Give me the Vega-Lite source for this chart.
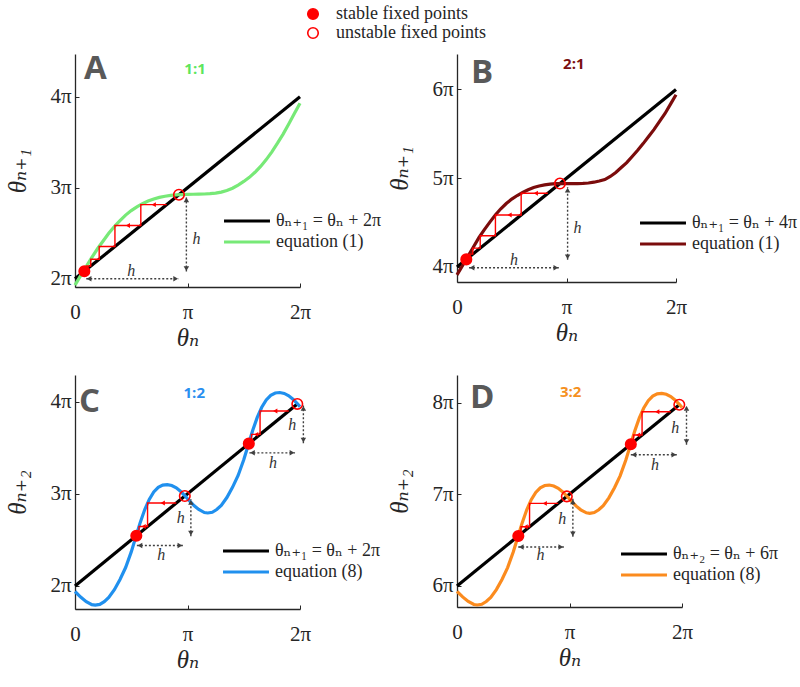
{
  "$schema": "https://vega.github.io/schema/vega-lite/v6.json",
  "background": "white",
  "padding": {"left": 5, "top": 5, "right": 5, "bottom": 5},
  "bounds": "flush",
  "columns": 2,
  "spacing": {"row": 88, "column": 157},
  "resolve": {"scale": {"stroke": "independent"}, "legend": {"stroke": "independent"}},
  "concat": [
    {
      "width": 225, "height": 233,
      "title": {"text": "A", "dx": 9, "dy": 36},
      "encoding": {
        "x": {"field": "x", "type": "quantitative", "scale": {"domain": [0, 2], "nice": false, "zero": false}, "axis": {"values": [0, 1, 2], "labelExpr": "datum.value == 0 ? '0' : datum.value == 1 ? 'π' : datum.value + 'π'", "title": "θₙ"}},
        "y": {"field": "y", "type": "quantitative", "scale": {"domain": [1.91, 4.47], "nice": false, "zero": false}, "axis": {"values": [2, 3, 4], "labelExpr": "datum.value + 'π'", "title": "θₙ₊₁"}}
      },
      "layer": [
        {"data": {"values": [{"x": 0, "y": 2, "s": "θₙ₊₁ = θₙ + 2π"}, {"x": 2, "y": 4, "s": "θₙ₊₁ = θₙ + 2π"}]},
         "mark": {"type": "line", "strokeWidth": 3.2},
         "encoding": {"stroke": {"field": "s", "type": "nominal", "scale": {"domain": ["θₙ₊₁ = θₙ + 2π", "equation (1)"], "range": ["#000000", "#77e977"]}, "legend": {"orient": "none", "legendX": 163, "legendY": 158, "title": null, "rowPadding": 3, "labelOffset": 20, "symbolType": "M-4,0H4", "symbolSize": 132, "symbolStrokeWidth": 3.2, "labelFontSize": 18, "labelFont": "Liberation Serif, Times New Roman, DejaVu Serif, serif"}}}},
        {"data": {"values": [
          {"x": 0, "y": 1.93, "s": "equation (1)"}, {"x": 0.05, "y": 2.035, "s": "equation (1)"}, {"x": 0.1, "y": 2.135, "s": "equation (1)"}, {"x": 0.15, "y": 2.235, "s": "equation (1)"}, {"x": 0.2, "y": 2.33, "s": "equation (1)"}, {"x": 0.25, "y": 2.415, "s": "equation (1)"}, {"x": 0.3, "y": 2.5, "s": "equation (1)"}, {"x": 0.35, "y": 2.575, "s": "equation (1)"}, {"x": 0.4, "y": 2.64, "s": "equation (1)"}, {"x": 0.45, "y": 2.7, "s": "equation (1)"}, {"x": 0.5, "y": 2.75, "s": "equation (1)"}, {"x": 0.55, "y": 2.79, "s": "equation (1)"}, {"x": 0.6, "y": 2.825, "s": "equation (1)"}, {"x": 0.65, "y": 2.855, "s": "equation (1)"}, {"x": 0.7, "y": 2.877, "s": "equation (1)"}, {"x": 0.75, "y": 2.895, "s": "equation (1)"}, {"x": 0.8, "y": 2.907, "s": "equation (1)"}, {"x": 0.85, "y": 2.916, "s": "equation (1)"}, {"x": 0.9, "y": 2.922, "s": "equation (1)"}, {"x": 0.95, "y": 2.926, "s": "equation (1)"}, {"x": 1.0, "y": 2.928, "s": "equation (1)"}, {"x": 1.05, "y": 2.929, "s": "equation (1)"}, {"x": 1.1, "y": 2.93, "s": "equation (1)"}, {"x": 1.15, "y": 2.932, "s": "equation (1)"}, {"x": 1.2, "y": 2.935, "s": "equation (1)"}, {"x": 1.25, "y": 2.942, "s": "equation (1)"}, {"x": 1.3, "y": 2.953, "s": "equation (1)"}, {"x": 1.35, "y": 2.97, "s": "equation (1)"}, {"x": 1.4, "y": 2.995, "s": "equation (1)"}, {"x": 1.45, "y": 3.03, "s": "equation (1)"}, {"x": 1.5, "y": 3.07, "s": "equation (1)"}, {"x": 1.55, "y": 3.115, "s": "equation (1)"}, {"x": 1.6, "y": 3.17, "s": "equation (1)"}, {"x": 1.65, "y": 3.235, "s": "equation (1)"}, {"x": 1.7, "y": 3.31, "s": "equation (1)"}, {"x": 1.75, "y": 3.395, "s": "equation (1)"}, {"x": 1.8, "y": 3.49, "s": "equation (1)"}, {"x": 1.85, "y": 3.59, "s": "equation (1)"}, {"x": 1.9, "y": 3.7, "s": "equation (1)"}, {"x": 1.95, "y": 3.815, "s": "equation (1)"}, {"x": 2.0, "y": 3.93, "s": "equation (1)"}]},
         "mark": {"type": "line", "strokeWidth": 3.2},
         "encoding": {"stroke": {"field": "s", "type": "nominal", "scale": {"domain": ["θₙ₊₁ = θₙ + 2π", "equation (1)"], "range": ["#000000", "#77e977"]}, "legend": {"orient": "none", "legendX": 163, "legendY": 158, "title": null, "rowPadding": 3, "labelOffset": 20, "symbolType": "M-4,0H4", "symbolSize": 132, "symbolStrokeWidth": 3.2, "labelFontSize": 18, "labelFont": "Liberation Serif, Times New Roman, DejaVu Serif, serif"}}}},
        {"data": {"values": [
          {"i": 0, "x": 0.815, "y": 2.815}, {"i": 1, "x": 0.585, "y": 2.815}, {"i": 2, "x": 0.585, "y": 2.585}, {"i": 3, "x": 0.355, "y": 2.585}, {"i": 4, "x": 0.355, "y": 2.355}, {"i": 5, "x": 0.215, "y": 2.355}, {"i": 6, "x": 0.215, "y": 2.215}, {"i": 7, "x": 0.14, "y": 2.215}, {"i": 8, "x": 0.14, "y": 2.14}, {"i": 9, "x": 0.105, "y": 2.14}, {"i": 10, "x": 0.105, "y": 2.105}]},
         "mark": {"type": "line", "color": "#ff0000", "strokeWidth": 1.4},
         "encoding": {"order": {"field": "i", "type": "quantitative"}}},
        {"data": {"values": [{"x": 0.7, "y": 2.815, "dir": "left"}, {"x": 0.47, "y": 2.585, "dir": "left"}]},
         "mark": {"type": "point", "filled": true, "color": "#ff0000", "size": 24, "opacity": 1},
         "encoding": {"shape": {"field": "dir", "type": "nominal", "scale": {"domain": ["left", "right", "up", "down"], "range": ["triangle-left", "triangle-right", "triangle-up", "triangle-down"]}, "legend": null}}},
        {"data": {"values": [{"x": 0.1, "y": 2.0, "x2": 0.92, "y2": 2.0}, {"x": 0.99, "y": 2.08, "x2": 0.99, "y2": 2.9}]},
         "mark": {"type": "rule", "color": "#404040", "strokeWidth": 1.4, "strokeDash": [2, 2]},
         "encoding": {"x2": {"field": "x2"}, "y2": {"field": "y2"}}},
        {"data": {"values": [{"x": 0.125, "y": 2.0, "dir": "left"}, {"x": 0.895, "y": 2.0, "dir": "right"}, {"x": 0.99, "y": 2.867, "dir": "up"}, {"x": 0.99, "y": 2.113, "dir": "down"}]},
         "mark": {"type": "point", "filled": true, "color": "#404040", "size": 30, "opacity": 1},
         "encoding": {"shape": {"field": "dir", "type": "nominal", "scale": {"domain": ["left", "right", "up", "down"], "range": ["triangle-left", "triangle-right", "triangle-up", "triangle-down"]}, "legend": null}}},
        {"data": {"values": [{"x": 0.5, "y": 2.09, "t": "h"}, {"x": 1.08, "y": 2.44, "t": "h"}]},
         "mark": {"type": "text", "font": "Liberation Serif, Times New Roman, DejaVu Serif, serif", "fontStyle": "italic", "fontSize": 16, "color": "#333333"},
         "encoding": {"text": {"field": "t"}}},
        {"data": {"values": [{"x": 1.067, "y": 4.3, "t": "1:1"}]},
         "mark": {"type": "text", "font": "Open Sans", "fontWeight": "bold", "fontSize": 15, "color": "#5de65d"},
         "encoding": {"text": {"field": "t"}}},
        {"data": {"values": [{"x": 0.083, "y": 2.083, "st": "stable fixed points"}, {"x": 0.924, "y": 2.924, "st": "unstable fixed points"}]},
         "mark": {"type": "point", "shape": "circle", "filled": true, "stroke": "#ff0000", "strokeWidth": 1.6, "size": 110, "opacity": 1},
         "encoding": {"fill": {"field": "st", "type": "nominal", "scale": {"domain": ["stable fixed points", "unstable fixed points"], "range": ["#ff0000", "rgba(255,255,255,0)"]}, "legend": {"orient": "none", "legendX": 229, "legendY": -49, "title": null, "symbolType": "circle", "symbolSize": 110, "symbolStrokeColor": "#ff0000", "symbolStrokeWidth": 1.6, "labelFontSize": 18, "labelFont": "Liberation Serif, Times New Roman, DejaVu Serif, serif", "labelOffset": 14, "rowPadding": 1}}}}
      ]
    },
    {
      "width": 219, "height": 228,
      "title": {"text": "B", "dx": 14, "dy": 40},
      "encoding": {
        "x": {"field": "x", "type": "quantitative", "scale": {"domain": [0, 2], "nice": false, "zero": false}, "axis": {"values": [0, 1, 2], "labelExpr": "datum.value == 0 ? '0' : datum.value == 1 ? 'π' : datum.value + 'π'", "title": "θₙ"}},
        "y": {"field": "y", "type": "quantitative", "scale": {"domain": [3.83, 6.4], "nice": false, "zero": false}, "axis": {"values": [4, 5, 6], "labelExpr": "datum.value + 'π'", "title": "θₙ₊₁"}}
      },
      "layer": [
        {"data": {"values": [{"x": 0, "y": 4, "s": "θₙ₊₁ = θₙ + 4π"}, {"x": 2, "y": 6, "s": "θₙ₊₁ = θₙ + 4π"}]},
         "mark": {"type": "line", "strokeWidth": 3.2},
         "encoding": {"stroke": {"field": "s", "type": "nominal", "scale": {"domain": ["θₙ₊₁ = θₙ + 4π", "equation (1)"], "range": ["#000000", "#7b0c0c"]}, "legend": {"orient": "none", "legendX": 197, "legendY": 160, "title": null, "rowPadding": 3, "labelOffset": 20, "symbolType": "M-4,0H4", "symbolSize": 132, "symbolStrokeWidth": 3.2, "labelFontSize": 18, "labelFont": "Liberation Serif, Times New Roman, DejaVu Serif, serif"}}}},
        {"data": {"values": [
          {"x": 0, "y": 3.91, "s": "equation (1)"}, {"x": 0.05, "y": 4.015, "s": "equation (1)"}, {"x": 0.1, "y": 4.12, "s": "equation (1)"}, {"x": 0.15, "y": 4.225, "s": "equation (1)"}, {"x": 0.2, "y": 4.33, "s": "equation (1)"}, {"x": 0.25, "y": 4.42, "s": "equation (1)"}, {"x": 0.3, "y": 4.505, "s": "equation (1)"}, {"x": 0.35, "y": 4.585, "s": "equation (1)"}, {"x": 0.4, "y": 4.655, "s": "equation (1)"}, {"x": 0.45, "y": 4.715, "s": "equation (1)"}, {"x": 0.5, "y": 4.765, "s": "equation (1)"}, {"x": 0.55, "y": 4.805, "s": "equation (1)"}, {"x": 0.6, "y": 4.84, "s": "equation (1)"}, {"x": 0.65, "y": 4.87, "s": "equation (1)"}, {"x": 0.7, "y": 4.895, "s": "equation (1)"}, {"x": 0.75, "y": 4.912, "s": "equation (1)"}, {"x": 0.8, "y": 4.925, "s": "equation (1)"}, {"x": 0.85, "y": 4.933, "s": "equation (1)"}, {"x": 0.9, "y": 4.938, "s": "equation (1)"}, {"x": 0.95, "y": 4.94, "s": "equation (1)"}, {"x": 1.0, "y": 4.94, "s": "equation (1)"}, {"x": 1.05, "y": 4.94, "s": "equation (1)"}, {"x": 1.1, "y": 4.94, "s": "equation (1)"}, {"x": 1.15, "y": 4.942, "s": "equation (1)"}, {"x": 1.2, "y": 4.946, "s": "equation (1)"}, {"x": 1.25, "y": 4.955, "s": "equation (1)"}, {"x": 1.3, "y": 4.968, "s": "equation (1)"}, {"x": 1.35, "y": 4.985, "s": "equation (1)"}, {"x": 1.4, "y": 5.02, "s": "equation (1)"}, {"x": 1.45, "y": 5.065, "s": "equation (1)"}, {"x": 1.5, "y": 5.12, "s": "equation (1)"}, {"x": 1.55, "y": 5.175, "s": "equation (1)"}, {"x": 1.6, "y": 5.245, "s": "equation (1)"}, {"x": 1.65, "y": 5.315, "s": "equation (1)"}, {"x": 1.7, "y": 5.39, "s": "equation (1)"}, {"x": 1.75, "y": 5.47, "s": "equation (1)"}, {"x": 1.8, "y": 5.55, "s": "equation (1)"}, {"x": 1.85, "y": 5.64, "s": "equation (1)"}, {"x": 1.9, "y": 5.73, "s": "equation (1)"}, {"x": 1.95, "y": 5.835, "s": "equation (1)"}, {"x": 2.0, "y": 5.94, "s": "equation (1)"}]},
         "mark": {"type": "line", "strokeWidth": 3.2},
         "encoding": {"stroke": {"field": "s", "type": "nominal", "scale": {"domain": ["θₙ₊₁ = θₙ + 4π", "equation (1)"], "range": ["#000000", "#7b0c0c"]}, "legend": {"orient": "none", "legendX": 197, "legendY": 160, "title": null, "rowPadding": 3, "labelOffset": 20, "symbolType": "M-4,0H4", "symbolSize": 132, "symbolStrokeWidth": 3.2, "labelFontSize": 18, "labelFont": "Liberation Serif, Times New Roman, DejaVu Serif, serif"}}}},
        {"data": {"values": [
          {"i": 0, "x": 0.83, "y": 4.83}, {"i": 1, "x": 0.586, "y": 4.83}, {"i": 2, "x": 0.586, "y": 4.586}, {"i": 3, "x": 0.351, "y": 4.586}, {"i": 4, "x": 0.351, "y": 4.351}, {"i": 5, "x": 0.212, "y": 4.351}, {"i": 6, "x": 0.212, "y": 4.212}, {"i": 7, "x": 0.144, "y": 4.212}, {"i": 8, "x": 0.144, "y": 4.144}, {"i": 9, "x": 0.111, "y": 4.144}, {"i": 10, "x": 0.111, "y": 4.111}]},
         "mark": {"type": "line", "color": "#ff0000", "strokeWidth": 1.4},
         "encoding": {"order": {"field": "i", "type": "quantitative"}}},
        {"data": {"values": [{"x": 0.72, "y": 4.83, "dir": "left"}, {"x": 0.48, "y": 4.586, "dir": "left"}]},
         "mark": {"type": "point", "filled": true, "color": "#ff0000", "size": 24, "opacity": 1},
         "encoding": {"shape": {"field": "dir", "type": "nominal", "scale": {"domain": ["left", "right", "up", "down"], "range": ["triangle-left", "triangle-right", "triangle-up", "triangle-down"]}, "legend": null}}},
        {"data": {"values": [{"x": 0.11, "y": 3.99, "x2": 0.93, "y2": 3.99}, {"x": 1.01, "y": 4.08, "x2": 1.01, "y2": 4.9}]},
         "mark": {"type": "rule", "color": "#404040", "strokeWidth": 1.4, "strokeDash": [2, 2]},
         "encoding": {"x2": {"field": "x2"}, "y2": {"field": "y2"}}},
        {"data": {"values": [{"x": 0.137, "y": 3.99, "dir": "left"}, {"x": 0.903, "y": 3.99, "dir": "right"}, {"x": 1.01, "y": 4.866, "dir": "up"}, {"x": 1.01, "y": 4.114, "dir": "down"}]},
         "mark": {"type": "point", "filled": true, "color": "#404040", "size": 30, "opacity": 1},
         "encoding": {"shape": {"field": "dir", "type": "nominal", "scale": {"domain": ["left", "right", "up", "down"], "range": ["triangle-left", "triangle-right", "triangle-up", "triangle-down"]}, "legend": null}}},
        {"data": {"values": [{"x": 0.52, "y": 4.075, "t": "h"}, {"x": 1.1, "y": 4.44, "t": "h"}]},
         "mark": {"type": "text", "font": "Liberation Serif, Times New Roman, DejaVu Serif, serif", "fontStyle": "italic", "fontSize": 16, "color": "#333333"},
         "encoding": {"text": {"field": "t"}}},
        {"data": {"values": [{"x": 1.067, "y": 6.29, "t": "2:1"}]},
         "mark": {"type": "text", "font": "Open Sans", "fontWeight": "bold", "fontSize": 15, "color": "#7b1010"},
         "encoding": {"text": {"field": "t"}}},
        {"data": {"values": [{"x": 0.085, "y": 4.085, "st": "stable fixed points"}, {"x": 0.94, "y": 4.94, "st": "unstable fixed points"}]},
         "mark": {"type": "point", "shape": "circle", "filled": true, "stroke": "#ff0000", "strokeWidth": 1.6, "size": 110, "opacity": 1},
         "encoding": {"fill": {"field": "st", "type": "nominal", "scale": {"domain": ["stable fixed points", "unstable fixed points"], "range": ["#ff0000", "rgba(255,255,255,0)"]}, "legend": {"orient": "none", "legendX": 229, "legendY": -49, "title": null, "symbolType": "circle", "symbolSize": 110, "symbolStrokeColor": "#ff0000", "symbolStrokeWidth": 1.6, "labelFontSize": 18, "labelFont": "Liberation Serif, Times New Roman, DejaVu Serif, serif", "labelOffset": 14, "rowPadding": 1}}}}
      ]
    },
    {
      "width": 225, "height": 234,
      "title": {"text": "C", "dx": 4, "dy": 48},
      "encoding": {
        "x": {"field": "x", "type": "quantitative", "scale": {"domain": [0, 2], "nice": false, "zero": false}, "axis": {"values": [0, 1, 2], "labelExpr": "datum.value == 0 ? '0' : datum.value == 1 ? 'π' : datum.value + 'π'", "title": "θₙ"}},
        "y": {"field": "y", "type": "quantitative", "scale": {"domain": [1.75, 4.29], "nice": false, "zero": false}, "axis": {"values": [2, 3, 4], "labelExpr": "datum.value + 'π'", "title": "θₙ₊₂"}}
      },
      "layer": [
        {"data": {"values": [{"x": 0, "y": 2, "s": "θₙ₊₁ = θₙ + 2π"}, {"x": 1.976, "y": 3.976, "s": "θₙ₊₁ = θₙ + 2π"}]},
         "mark": {"type": "line", "strokeWidth": 3.2},
         "encoding": {"stroke": {"field": "s", "type": "nominal", "scale": {"domain": ["θₙ₊₁ = θₙ + 2π", "equation (8)"], "range": ["#000000", "#2090ee"]}, "legend": {"orient": "none", "legendX": 162, "legendY": 167, "title": null, "rowPadding": 3, "labelOffset": 20, "symbolType": "M-4,0H4", "symbolSize": 132, "symbolStrokeWidth": 3.2, "labelFontSize": 18, "labelFont": "Liberation Serif, Times New Roman, DejaVu Serif, serif"}}}},
        {"data": {"values": [
          {"x": 0, "y": 1.94, "s": "equation (8)"}, {"x": 0.05, "y": 1.88, "s": "equation (8)"}, {"x": 0.1, "y": 1.83, "s": "equation (8)"}, {"x": 0.15, "y": 1.797, "s": "equation (8)"}, {"x": 0.18, "y": 1.792, "s": "equation (8)"}, {"x": 0.22, "y": 1.8, "s": "equation (8)"}, {"x": 0.26, "y": 1.83, "s": "equation (8)"}, {"x": 0.3, "y": 1.875, "s": "equation (8)"}, {"x": 0.35, "y": 1.96, "s": "equation (8)"}, {"x": 0.4, "y": 2.07, "s": "equation (8)"}, {"x": 0.45, "y": 2.2, "s": "equation (8)"}, {"x": 0.5, "y": 2.37, "s": "equation (8)"}, {"x": 0.54, "y": 2.53, "s": "equation (8)"}, {"x": 0.58, "y": 2.69, "s": "equation (8)"}, {"x": 0.62, "y": 2.83, "s": "equation (8)"}, {"x": 0.66, "y": 2.94, "s": "equation (8)"}, {"x": 0.7, "y": 3.02, "s": "equation (8)"}, {"x": 0.74, "y": 3.07, "s": "equation (8)"}, {"x": 0.78, "y": 3.095, "s": "equation (8)"}, {"x": 0.82, "y": 3.1, "s": "equation (8)"}, {"x": 0.86, "y": 3.09, "s": "equation (8)"}, {"x": 0.9, "y": 3.065, "s": "equation (8)"}, {"x": 0.94, "y": 3.025, "s": "equation (8)"}, {"x": 0.98, "y": 2.975, "s": "equation (8)"}, {"x": 1.02, "y": 2.92, "s": "equation (8)"}, {"x": 1.06, "y": 2.87, "s": "equation (8)"}, {"x": 1.1, "y": 2.83, "s": "equation (8)"}, {"x": 1.15, "y": 2.797, "s": "equation (8)"}, {"x": 1.18, "y": 2.792, "s": "equation (8)"}, {"x": 1.22, "y": 2.8, "s": "equation (8)"}, {"x": 1.26, "y": 2.83, "s": "equation (8)"}, {"x": 1.3, "y": 2.875, "s": "equation (8)"}, {"x": 1.35, "y": 2.96, "s": "equation (8)"}, {"x": 1.4, "y": 3.07, "s": "equation (8)"}, {"x": 1.45, "y": 3.2, "s": "equation (8)"}, {"x": 1.5, "y": 3.37, "s": "equation (8)"}, {"x": 1.54, "y": 3.53, "s": "equation (8)"}, {"x": 1.58, "y": 3.69, "s": "equation (8)"}, {"x": 1.62, "y": 3.83, "s": "equation (8)"}, {"x": 1.66, "y": 3.94, "s": "equation (8)"}, {"x": 1.7, "y": 4.02, "s": "equation (8)"}, {"x": 1.74, "y": 4.07, "s": "equation (8)"}, {"x": 1.78, "y": 4.095, "s": "equation (8)"}, {"x": 1.82, "y": 4.1, "s": "equation (8)"}, {"x": 1.86, "y": 4.09, "s": "equation (8)"}, {"x": 1.9, "y": 4.065, "s": "equation (8)"}, {"x": 1.94, "y": 4.025, "s": "equation (8)"}, {"x": 1.98, "y": 3.975, "s": "equation (8)"}, {"x": 2.0, "y": 3.945, "s": "equation (8)"}]},
         "mark": {"type": "line", "strokeWidth": 3.2},
         "encoding": {"stroke": {"field": "s", "type": "nominal", "scale": {"domain": ["θₙ₊₁ = θₙ + 2π", "equation (8)"], "range": ["#000000", "#2090ee"]}, "legend": {"orient": "none", "legendX": 162, "legendY": 167, "title": null, "rowPadding": 3, "labelOffset": 20, "symbolType": "M-4,0H4", "symbolSize": 132, "symbolStrokeWidth": 3.2, "labelFontSize": 18, "labelFont": "Liberation Serif, Times New Roman, DejaVu Serif, serif"}}}},
        {"data": {"values": [
          {"g": "a", "i": 0, "x": 0.9, "y": 2.9}, {"g": "a", "i": 1, "x": 0.645, "y": 2.9}, {"g": "a", "i": 2, "x": 0.645, "y": 2.645}, {"g": "a", "i": 3, "x": 0.569, "y": 2.645}, {"g": "a", "i": 4, "x": 0.569, "y": 2.569}, {"g": "a", "i": 5, "x": 0.551, "y": 2.569}, {"g": "a", "i": 6, "x": 0.551, "y": 2.551},
          {"g": "b", "i": 0, "x": 1.9, "y": 3.9}, {"g": "b", "i": 1, "x": 1.645, "y": 3.9}, {"g": "b", "i": 2, "x": 1.645, "y": 3.645}, {"g": "b", "i": 3, "x": 1.569, "y": 3.645}, {"g": "b", "i": 4, "x": 1.569, "y": 3.569}, {"g": "b", "i": 5, "x": 1.551, "y": 3.569}, {"g": "b", "i": 6, "x": 1.551, "y": 3.551}]},
         "mark": {"type": "line", "color": "#ff0000", "strokeWidth": 1.4},
         "encoding": {"order": {"field": "i", "type": "quantitative"}, "detail": {"field": "g", "type": "nominal"}}},
        {"data": {"values": [{"x": 0.78, "y": 2.9, "dir": "left"}, {"x": 0.61, "y": 2.645, "dir": "left"}, {"x": 1.78, "y": 3.9, "dir": "left"}, {"x": 1.61, "y": 3.645, "dir": "left"}]},
         "mark": {"type": "point", "filled": true, "color": "#ff0000", "size": 24, "opacity": 1},
         "encoding": {"shape": {"field": "dir", "type": "nominal", "scale": {"domain": ["left", "right", "up", "down"], "range": ["triangle-left", "triangle-right", "triangle-up", "triangle-down"]}, "legend": null}}},
        {"data": {"values": [{"x": 0.55, "y": 2.44, "x2": 0.96, "y2": 2.44}, {"x": 1.03, "y": 2.54, "x2": 1.03, "y2": 2.94}, {"x": 1.55, "y": 3.445, "x2": 1.956, "y2": 3.445}, {"x": 2.03, "y": 3.55, "x2": 2.03, "y2": 3.96}]},
         "mark": {"type": "rule", "color": "#404040", "strokeWidth": 1.4, "strokeDash": [2, 2]},
         "encoding": {"x2": {"field": "x2"}, "y2": {"field": "y2"}}},
        {"data": {"values": [{"x": 0.577, "y": 2.44, "dir": "left"}, {"x": 0.933, "y": 2.44, "dir": "right"}, {"x": 1.03, "y": 2.907, "dir": "up"}, {"x": 1.03, "y": 2.573, "dir": "down"}, {"x": 1.577, "y": 3.445, "dir": "left"}, {"x": 1.929, "y": 3.445, "dir": "right"}, {"x": 2.03, "y": 3.927, "dir": "up"}, {"x": 2.03, "y": 3.583, "dir": "down"}]},
         "mark": {"type": "point", "filled": true, "color": "#404040", "size": 30, "opacity": 1},
         "encoding": {"shape": {"field": "dir", "type": "nominal", "scale": {"domain": ["left", "right", "up", "down"], "range": ["triangle-left", "triangle-right", "triangle-up", "triangle-down"]}, "legend": null}}},
        {"data": {"values": [{"x": 0.767, "y": 2.34, "t": "h"}, {"x": 0.94, "y": 2.74, "t": "h"}, {"x": 1.76, "y": 3.34, "t": "h"}, {"x": 1.93, "y": 3.75, "t": "h"}]},
         "mark": {"type": "text", "font": "Liberation Serif, Times New Roman, DejaVu Serif, serif", "fontStyle": "italic", "fontSize": 16, "color": "#333333"},
         "encoding": {"text": {"field": "t"}}},
        {"data": {"values": [{"x": 1.06, "y": 4.09, "t": "1:2"}]},
         "mark": {"type": "text", "font": "Open Sans", "fontWeight": "bold", "fontSize": 15, "color": "#2a8ff0"},
         "encoding": {"text": {"field": "t"}}},
        {"data": {"values": [{"x": 0.545, "y": 2.545, "st": "stable fixed points"}, {"x": 1.545, "y": 3.545, "st": "stable fixed points"}, {"x": 0.976, "y": 2.976, "st": "unstable fixed points"}, {"x": 1.976, "y": 3.976, "st": "unstable fixed points"}]},
         "mark": {"type": "point", "shape": "circle", "filled": true, "stroke": "#ff0000", "strokeWidth": 1.6, "size": 110, "opacity": 1},
         "encoding": {"fill": {"field": "st", "type": "nominal", "scale": {"domain": ["stable fixed points", "unstable fixed points"], "range": ["#ff0000", "rgba(255,255,255,0)"]}, "legend": {"orient": "none", "legendX": 229, "legendY": -49, "title": null, "symbolType": "circle", "symbolSize": 110, "symbolStrokeColor": "#ff0000", "symbolStrokeWidth": 1.6, "labelFontSize": 18, "labelFont": "Liberation Serif, Times New Roman, DejaVu Serif, serif", "labelOffset": 14, "rowPadding": 1}}}}
      ]
    },
    {
      "width": 225, "height": 232,
      "title": {"text": "D", "dx": 13, "dy": 44},
      "encoding": {
        "x": {"field": "x", "type": "quantitative", "scale": {"domain": [0, 2], "nice": false, "zero": false}, "axis": {"values": [0, 1, 2], "labelExpr": "datum.value == 0 ? '0' : datum.value == 1 ? 'π' : datum.value + 'π'", "title": "θₙ"}},
        "y": {"field": "y", "type": "quantitative", "scale": {"domain": [5.77, 8.3], "nice": false, "zero": false}, "axis": {"values": [6, 7, 8], "labelExpr": "datum.value + 'π'", "title": "θₙ₊₂"}}
      },
      "layer": [
        {"data": {"values": [{"x": 0, "y": 6, "s": "θₙ₊₂ = θₙ + 6π"}, {"x": 1.976, "y": 7.976, "s": "θₙ₊₂ = θₙ + 6π"}]},
         "mark": {"type": "line", "strokeWidth": 3.2},
         "encoding": {"stroke": {"field": "s", "type": "nominal", "scale": {"domain": ["θₙ₊₂ = θₙ + 6π", "equation (8)"], "range": ["#000000", "#fb8b1e"]}, "legend": {"orient": "none", "legendX": 178, "legendY": 170, "title": null, "rowPadding": 3, "labelOffset": 20, "symbolType": "M-4,0H4", "symbolSize": 132, "symbolStrokeWidth": 3.2, "labelFontSize": 18, "labelFont": "Liberation Serif, Times New Roman, DejaVu Serif, serif"}}}},
        {"data": {"values": [
          {"x": 0, "y": 5.94, "s": "equation (8)"}, {"x": 0.05, "y": 5.88, "s": "equation (8)"}, {"x": 0.1, "y": 5.83, "s": "equation (8)"}, {"x": 0.15, "y": 5.797, "s": "equation (8)"}, {"x": 0.18, "y": 5.792, "s": "equation (8)"}, {"x": 0.22, "y": 5.8, "s": "equation (8)"}, {"x": 0.26, "y": 5.83, "s": "equation (8)"}, {"x": 0.3, "y": 5.875, "s": "equation (8)"}, {"x": 0.35, "y": 5.96, "s": "equation (8)"}, {"x": 0.4, "y": 6.07, "s": "equation (8)"}, {"x": 0.45, "y": 6.2, "s": "equation (8)"}, {"x": 0.5, "y": 6.37, "s": "equation (8)"}, {"x": 0.54, "y": 6.53, "s": "equation (8)"}, {"x": 0.58, "y": 6.69, "s": "equation (8)"}, {"x": 0.62, "y": 6.83, "s": "equation (8)"}, {"x": 0.66, "y": 6.94, "s": "equation (8)"}, {"x": 0.7, "y": 7.02, "s": "equation (8)"}, {"x": 0.74, "y": 7.07, "s": "equation (8)"}, {"x": 0.78, "y": 7.095, "s": "equation (8)"}, {"x": 0.82, "y": 7.1, "s": "equation (8)"}, {"x": 0.86, "y": 7.09, "s": "equation (8)"}, {"x": 0.9, "y": 7.065, "s": "equation (8)"}, {"x": 0.94, "y": 7.025, "s": "equation (8)"}, {"x": 0.98, "y": 6.975, "s": "equation (8)"}, {"x": 1.02, "y": 6.92, "s": "equation (8)"}, {"x": 1.06, "y": 6.87, "s": "equation (8)"}, {"x": 1.1, "y": 6.83, "s": "equation (8)"}, {"x": 1.15, "y": 6.797, "s": "equation (8)"}, {"x": 1.18, "y": 6.792, "s": "equation (8)"}, {"x": 1.22, "y": 6.8, "s": "equation (8)"}, {"x": 1.26, "y": 6.83, "s": "equation (8)"}, {"x": 1.3, "y": 6.875, "s": "equation (8)"}, {"x": 1.35, "y": 6.96, "s": "equation (8)"}, {"x": 1.4, "y": 7.07, "s": "equation (8)"}, {"x": 1.45, "y": 7.2, "s": "equation (8)"}, {"x": 1.5, "y": 7.37, "s": "equation (8)"}, {"x": 1.54, "y": 7.53, "s": "equation (8)"}, {"x": 1.58, "y": 7.69, "s": "equation (8)"}, {"x": 1.62, "y": 7.83, "s": "equation (8)"}, {"x": 1.66, "y": 7.94, "s": "equation (8)"}, {"x": 1.7, "y": 8.02, "s": "equation (8)"}, {"x": 1.74, "y": 8.07, "s": "equation (8)"}, {"x": 1.78, "y": 8.095, "s": "equation (8)"}, {"x": 1.82, "y": 8.1, "s": "equation (8)"}, {"x": 1.86, "y": 8.09, "s": "equation (8)"}, {"x": 1.9, "y": 8.065, "s": "equation (8)"}, {"x": 1.94, "y": 8.025, "s": "equation (8)"}, {"x": 1.98, "y": 7.975, "s": "equation (8)"}, {"x": 2.0, "y": 7.945, "s": "equation (8)"}]},
         "mark": {"type": "line", "strokeWidth": 3.2},
         "encoding": {"stroke": {"field": "s", "type": "nominal", "scale": {"domain": ["θₙ₊₂ = θₙ + 6π", "equation (8)"], "range": ["#000000", "#fb8b1e"]}, "legend": {"orient": "none", "legendX": 178, "legendY": 170, "title": null, "rowPadding": 3, "labelOffset": 20, "symbolType": "M-4,0H4", "symbolSize": 132, "symbolStrokeWidth": 3.2, "labelFontSize": 18, "labelFont": "Liberation Serif, Times New Roman, DejaVu Serif, serif"}}}},
        {"data": {"values": [
          {"g": "a", "i": 0, "x": 0.9, "y": 6.9}, {"g": "a", "i": 1, "x": 0.645, "y": 6.9}, {"g": "a", "i": 2, "x": 0.645, "y": 6.645}, {"g": "a", "i": 3, "x": 0.569, "y": 6.645}, {"g": "a", "i": 4, "x": 0.569, "y": 6.569}, {"g": "a", "i": 5, "x": 0.551, "y": 6.569}, {"g": "a", "i": 6, "x": 0.551, "y": 6.551},
          {"g": "b", "i": 0, "x": 1.9, "y": 7.9}, {"g": "b", "i": 1, "x": 1.645, "y": 7.9}, {"g": "b", "i": 2, "x": 1.645, "y": 7.645}, {"g": "b", "i": 3, "x": 1.569, "y": 7.645}, {"g": "b", "i": 4, "x": 1.569, "y": 7.569}, {"g": "b", "i": 5, "x": 1.551, "y": 7.569}, {"g": "b", "i": 6, "x": 1.551, "y": 7.551}]},
         "mark": {"type": "line", "color": "#ff0000", "strokeWidth": 1.4},
         "encoding": {"order": {"field": "i", "type": "quantitative"}, "detail": {"field": "g", "type": "nominal"}}},
        {"data": {"values": [{"x": 0.78, "y": 6.9, "dir": "left"}, {"x": 0.61, "y": 6.645, "dir": "left"}, {"x": 1.78, "y": 7.9, "dir": "left"}, {"x": 1.61, "y": 7.645, "dir": "left"}]},
         "mark": {"type": "point", "filled": true, "color": "#ff0000", "size": 24, "opacity": 1},
         "encoding": {"shape": {"field": "dir", "type": "nominal", "scale": {"domain": ["left", "right", "up", "down"], "range": ["triangle-left", "triangle-right", "triangle-up", "triangle-down"]}, "legend": null}}},
        {"data": {"values": [{"x": 0.544, "y": 6.425, "x2": 0.95, "y2": 6.425}, {"x": 1.03, "y": 6.535, "x2": 1.03, "y2": 6.95}, {"x": 1.545, "y": 7.43, "x2": 1.955, "y2": 7.43}, {"x": 2.04, "y": 7.54, "x2": 2.04, "y2": 7.97}]},
         "mark": {"type": "rule", "color": "#404040", "strokeWidth": 1.4, "strokeDash": [2, 2]},
         "encoding": {"x2": {"field": "x2"}, "y2": {"field": "y2"}}},
        {"data": {"values": [{"x": 0.571, "y": 6.425, "dir": "left"}, {"x": 0.923, "y": 6.425, "dir": "right"}, {"x": 1.03, "y": 6.917, "dir": "up"}, {"x": 1.03, "y": 6.568, "dir": "down"}, {"x": 1.572, "y": 7.43, "dir": "left"}, {"x": 1.928, "y": 7.43, "dir": "right"}, {"x": 2.04, "y": 7.937, "dir": "up"}, {"x": 2.04, "y": 7.573, "dir": "down"}]},
         "mark": {"type": "point", "filled": true, "color": "#404040", "size": 30, "opacity": 1},
         "encoding": {"shape": {"field": "dir", "type": "nominal", "scale": {"domain": ["left", "right", "up", "down"], "range": ["triangle-left", "triangle-right", "triangle-up", "triangle-down"]}, "legend": null}}},
        {"data": {"values": [{"x": 0.743, "y": 6.335, "t": "h"}, {"x": 0.936, "y": 6.73, "t": "h"}, {"x": 1.76, "y": 7.32, "t": "h"}, {"x": 1.94, "y": 7.72, "t": "h"}]},
         "mark": {"type": "text", "font": "Liberation Serif, Times New Roman, DejaVu Serif, serif", "fontStyle": "italic", "fontSize": 16, "color": "#333333"},
         "encoding": {"text": {"field": "t"}}},
        {"data": {"values": [{"x": 1.01, "y": 8.115, "t": "3:2"}]},
         "mark": {"type": "text", "font": "Open Sans", "fontWeight": "bold", "fontSize": 15, "color": "#f5901e"},
         "encoding": {"text": {"field": "t"}}},
        {"data": {"values": [{"x": 0.545, "y": 6.545, "st": "stable fixed points"}, {"x": 1.545, "y": 7.545, "st": "stable fixed points"}, {"x": 0.976, "y": 6.976, "st": "unstable fixed points"}, {"x": 1.976, "y": 7.976, "st": "unstable fixed points"}]},
         "mark": {"type": "point", "shape": "circle", "filled": true, "stroke": "#ff0000", "strokeWidth": 1.6, "size": 110, "opacity": 1},
         "encoding": {"fill": {"field": "st", "type": "nominal", "scale": {"domain": ["stable fixed points", "unstable fixed points"], "range": ["#ff0000", "rgba(255,255,255,0)"]}, "legend": {"orient": "none", "legendX": 229, "legendY": -49, "title": null, "symbolType": "circle", "symbolSize": 110, "symbolStrokeColor": "#ff0000", "symbolStrokeWidth": 1.6, "labelFontSize": 18, "labelFont": "Liberation Serif, Times New Roman, DejaVu Serif, serif", "labelOffset": 14, "rowPadding": 1}}}}
      ]
    }
  ],
  "config": {
    "view": {"stroke": null},
    "axis": {"domainColor": "#262626", "domainWidth": 1.3, "tickColor": "#262626", "tickSize": -4, "tickWidth": 1, "grid": false, "labelFont": "Liberation Serif, Times New Roman, DejaVu Serif, serif", "labelFontSize": 21, "labelColor": "#262626", "labelFlush": false, "labelOverlap": false, "titleFont": "Liberation Serif, Times New Roman, DejaVu Serif, serif", "titleFontSize": 25, "titleFontStyle": "italic", "titleFontWeight": "normal", "titleColor": "#262626"},
    "axisX": {"labelPadding": 18, "titlePadding": 3},
    "axisY": {"labelPadding": 8, "titlePadding": 19},
    "legend": {"labelFont": "Liberation Serif, Times New Roman, DejaVu Serif, serif", "labelColor": "#262626", "padding": 0},
    "title": {"font": "Open Sans", "fontSize": 33, "fontWeight": "bold", "color": "#595959", "anchor": "start", "frame": "group", "baseline": "top", "offset": 0}
  }
}
